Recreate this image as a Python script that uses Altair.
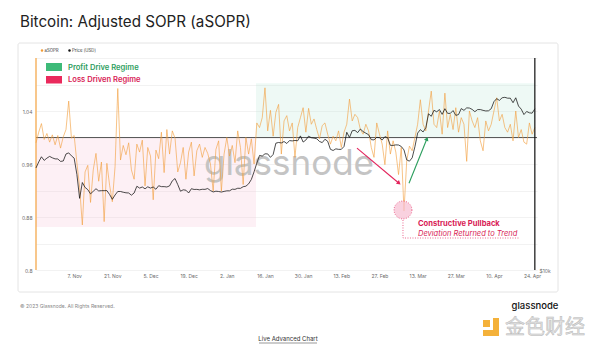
import altair as alt
import pandas as pd

FONT = "Inter"

# ---------------- data ----------------
dates = [d.strftime("%Y-%m-%d") for d in pd.date_range("2022-10-24", "2023-04-25", freq="D")]

asopr = [
    0.992, 1.008, 1.021, 0.997, 1.006, 0.993, 1.004, 0.989,              # Oct 24-31
    1.003, 0.984, 1.001, 1.012, 1.055, 0.999, 1.003, 0.962, 0.925, 0.868,  # Nov 1-10
    0.948, 0.958, 0.902, 0.951, 0.976, 0.934, 0.963, 0.873, 0.961, 0.928,  # Nov 11-20
    0.903, 0.956, 1.074, 0.966, 0.988, 0.974, 0.992, 0.951, 0.937, 0.990,  # Nov 21-30
    0.978, 0.996, 0.927, 0.985, 0.972, 0.906, 0.981, 0.968, 1.008, 0.947,  # Dec 1-10
    1.012, 0.975, 1.010, 0.999, 0.948, 0.962, 0.985, 0.937, 0.978, 0.993,  # Dec 11-20
    0.942, 0.980, 0.990, 0.970, 0.985, 0.976, 0.960, 0.919, 0.982, 0.995, 0.919,  # Dec 21-31
    0.975, 1.000, 0.972, 0.988, 0.962, 1.010, 0.985, 0.929, 1.000, 0.975,  # Jan 1-10
    0.998, 0.960, 1.022, 1.015, 1.030, 1.075, 1.010, 1.041, 1.002, 1.038,  # Jan 11-20
    1.050, 0.975, 1.025, 1.033, 1.010, 1.022, 0.970, 1.015, 1.030, 1.045, 1.008,  # Jan 21-31
    1.044, 1.020, 1.028, 1.012, 0.998, 1.018, 1.022, 1.005, 0.990, 1.002,  # Feb 1-10
    0.995, 1.010, 0.985, 1.008, 1.020, 1.058, 1.025, 1.035, 1.030, 1.012,  # Feb 11-20
    1.005, 1.020, 1.010, 0.985, 0.970, 1.022, 1.005, 0.990,              # Feb 21-28
    0.959, 1.010, 0.975, 0.995, 0.978, 0.944, 0.985, 0.889, 0.965, 0.987,  # Mar 1-10
    0.980, 1.000, 1.020, 1.057, 1.020, 1.010, 1.040, 1.070, 1.020, 1.015,  # Mar 11-20
    1.040, 1.005, 1.067, 1.015, 1.035, 1.012, 1.045, 1.008, 1.030, 1.020, 0.964,  # Mar 21-31
    1.040, 1.025, 1.015, 1.030, 0.995, 0.980, 1.025, 1.010, 1.020, 1.040,  # Apr 1-10
    1.060, 1.025, 1.035, 1.015, 1.008, 1.020, 0.995, 1.040, 1.000, 1.012,  # Apr 11-20
    0.993, 0.990, 1.022, 1.005, 1.015,                                    # Apr 21-25
]

price = [
    19330, 20090, 20770, 20290, 20590, 20820, 20630, 20490,
    20480, 20160, 20210, 21150, 21300, 20900, 20590, 18540, 15880, 17590,
    17040, 16800, 16350, 16620, 16900, 16660, 16690, 16690, 16700, 16280,
    15780, 16230, 16600, 16600, 16520, 16460, 16440, 16210, 16440, 17170,
    16970, 17090, 16890, 17110, 16970, 17090, 16840, 17230, 17130, 17130,
    17090, 17210, 17780, 18050, 17360, 16630, 16780, 16740, 16440, 16900,
    16820, 16830, 16780, 16840, 16830, 16920, 16700, 16550, 16630, 16600, 16540,
    16610, 16670, 16670, 16850, 16830, 16950, 16940, 17120, 17180, 17440,
    17940, 18850, 19930, 20950, 20870, 21170, 21160, 20690, 21080, 22680,
    22780, 22710, 22920, 22630, 23060, 23010, 23080, 23030, 23770, 22840, 23140,
    23730, 23490, 23430, 23330, 22930, 22760, 23260, 22960, 21800, 21630,
    21860, 21790, 21790, 22200, 24330, 23520, 24570, 24630, 24280, 24840,
    24440, 24190, 23950, 23200, 23160, 23550, 23490, 23150,
    23650, 23480, 22360, 22350, 22430, 22410, 22200, 21710, 20360, 20190,
    20630, 22160, 24200, 24750, 24380, 25050, 27420, 26970, 28040, 27770,
    28170, 27310, 28330, 27490, 27490, 27990, 27140, 27270, 28350, 28030, 28480,
    28450, 28200, 27790, 28170, 28170, 28030, 27920, 27950, 28330, 29650,
    30230, 29890, 30400, 30490, 30320, 30320, 29450, 30400, 28820, 28250,
    27280, 27820, 27590, 27520, 28310,
]

tick_dates = ["2022-11-07", "2022-11-21", "2022-12-05", "2022-12-19", "2023-01-02",
              "2023-01-16", "2023-01-30", "2023-02-13", "2023-02-27", "2023-03-13",
              "2023-03-27", "2023-04-10", "2023-04-24"]

# regime bands
loss_band = {"start": "2022-10-24T00:00:00Z", "end": "2023-01-12T17:00:00Z", "top": 1.0, "bottom": 0.865}
profit_band = {"start": "2023-01-12T17:00:00Z", "end": "2023-04-25T00:00:00Z", "top": 1.082, "bottom": 1.0}

# annotation anchors (date, aSOPR value)
red_arrow = {"t": "2023-02-18T18:00:00Z", "v": 0.984, "t2": "2023-03-06T04:00:00Z", "v2": 0.931}
green_arrow = {"t": "2023-03-09T20:00:00Z", "v": 0.931, "t2": "2023-03-16T10:00:00Z", "v2": 0.998}
pullback = {"t": "2023-03-07T15:00:00Z", "v": 0.8906}
leader_t = ["2023-03-07T15:00:00Z", "2023-03-07T15:00:00Z", "2023-04-19T13:00:00Z"]
leader_v = [0.8755, 0.8483, 0.8483]
label_t = "2023-03-13T03:00:00Z"
label_v = [0.8687, 0.8543]

df = pd.DataFrame({"date": dates, "asopr": asopr, "price": price})


def dt(s):
    ts = pd.Timestamp(s)
    return alt.DateTime(year=ts.year, month=ts.month, date=ts.day, hours=ts.hour,
                        minutes=ts.minute, utc=True)


xscale = alt.Scale(type="utc", domain=[dt("2022-10-24"), dt("2023-04-25T19:00:00")])
xaxis = alt.Axis(values=[dt(t) for t in tick_dates],
                 labelExpr="utcFormat(datum.value, '%-d. %b')",
                 title="", grid=False, ticks=False, domain=False, labelFontSize=5,
                 labelColor="#6b6b6b", labelPadding=3, labelFont=FONT)
yscale = alt.Scale(domain=[0.8, 1.12], nice=False, zero=False)
yaxis = alt.Axis(values=[0.8, 0.84, 0.88, 0.92, 0.96, 1.0, 1.04, 1.08, 1.12],
                 labelExpr="indexof(['0.8','0.88','0.96','1.04'], format(datum.value, '.2~f')) >= 0 ? format(datum.value, '.2~f') : ''",
                 title="", ticks=False, domain=False, grid=True, gridColor="#ececec",
                 gridWidth=0.7, labelFontSize=5, labelColor="#6b6b6b", labelPadding=4,
                 labelFont=FONT)


def X(f):
    return alt.X(f, type="temporal", scale=xscale, axis=xaxis)


def Y(f):
    return alt.Y(f, type="quantitative", scale=yscale, axis=yaxis)


one = alt.Data(values=[{"k": 1}])


def txt(s, x, y, size, color, weight="normal", align="left", style="normal", font=FONT):
    return alt.Chart(one).mark_text(text=s, fontSize=size, color=color, fontWeight=weight,
                                    align=align, baseline="middle", fontStyle=style,
                                    font=font).encode(x=alt.value(x), y=alt.value(y))


def box(x, x2, y, y2, color, **kw):
    return alt.Chart(one).mark_rect(color=color, **kw).encode(
        x=alt.value(x), x2=alt.value(x2), y=alt.value(y), y2=alt.value(y2))


def band(d, color):
    return alt.Chart(pd.DataFrame([d])).mark_rect(color=color, opacity=0.26).encode(
        x=X("start"), x2="end", y=Y("top"), y2="bottom")


# card
card = alt.Chart(one).mark_rect(fill="#ffffff", fillOpacity=0, stroke="#e4e4e4",
                                strokeWidth=1, cornerRadius=2).encode(
    x=alt.value(-18), x2=alt.value(522), y=alt.value(-15), y2=alt.value(234))

watermark = txt("glassnode", 253, 106, 35, "#c4c4c4", align="center")

one_line = alt.Chart(pd.DataFrame({"v": [1.0]})).mark_rule(color="#5a5a5a", strokeWidth=1.1).encode(y=Y("v"))

asopr_line = alt.Chart(df).mark_line(color="#f2a040", strokeWidth=0.7, opacity=0.9).encode(
    x=X("date"), y=Y("asopr"))


def edge_rule(t, color):
    return alt.Chart(pd.DataFrame({"t": [t], "lo": [0.8], "hi": [1.12]})).mark_rule(
        color=color, strokeWidth=1.2).encode(x=X("t"), y=Y("lo"), y2="hi")


def arrow(a, color, angle):
    d = pd.DataFrame([a])
    line = alt.Chart(d).mark_rule(color=color, strokeWidth=1.1).encode(
        x=X("t"), x2="t2", y=Y("v"), y2="v2")
    head = alt.Chart(d).mark_point(shape="triangle-up", filled=True, size=22, opacity=1,
                                   color=color, angle=angle).encode(x=X("t2"), y=Y("v2"))
    return [line, head]


circle = alt.Chart(pd.DataFrame([pullback])).mark_point(
    shape="circle", size=320, filled=False, fill="#f7c2d4", fillOpacity=0.75,
    stroke="#e3245c", strokeWidth=0.7, strokeDash=[1, 1.5], opacity=1).encode(x=X("t"), y=Y("v"))

leader = alt.Chart(pd.DataFrame({"t": leader_t, "v": leader_v, "o": [0, 1, 2]})).mark_line(
    color="#e3245c", strokeWidth=0.7, strokeDash=[1, 1.5]).encode(x=X("t"), y=Y("v"), order="o:Q")

lab1 = alt.Chart(pd.DataFrame({"t": [label_t], "v": [label_v[0]], "s": ["Constructive Pullback"]})).mark_text(
    align="left", baseline="middle", fontSize=7.6, fontWeight="bold", color="#d81b55", font=FONT).encode(
    x=X("t"), y=Y("v"), text="s:N")
lab2 = alt.Chart(pd.DataFrame({"t": [label_t], "v": [label_v[1]], "s": ["Deviation Returned to Trend"]})).mark_text(
    align="left", baseline="middle", fontSize=7.5, fontStyle="italic", color="#d81b55", font=FONT).encode(
    x=X("t"), y=Y("v"), text="s:N")

legend_items = [
    box(10, 26, 5, 13, "#3dba78"),
    box(10, 26, 18, 25.5, "#ea2a5c"),
    txt("Profit Drive Regime", 32, 9.5, 7.6, "#2e9e5e", weight=600),
    txt("Loss Driven Regime", 32, 22, 7.6, "#d81b55", weight=600),
    alt.Chart(one).mark_point(shape="circle", filled=True, size=6, color="#f39c35", opacity=1).encode(
        x=alt.value(6), y=alt.value(-7.5)),
    txt("aSOPR", 8.5, -7.5, 4.3, "#333333"),
    alt.Chart(one).mark_point(shape="circle", filled=True, size=6, color="#111111", opacity=1).encode(
        x=alt.value(33.5), y=alt.value(-7.5)),
    txt("Price [USD]", 36, -7.5, 4.3, "#333333"),
]

header_footer = [
    txt("Bitcoin: Adjusted SOPR (aSOPR)", -16, -36, 15.2, "#222222"),
    txt("\u00a9 2023 Glassnode. All Rights Reserved.", -16, 248, 5, "#888888"),
    txt("glassnode", 499, 248, 9.5, "#111111", weight=500, align="center"),
    txt("Live Advanced Chart", 252, 281, 6, "#333333", align="center"),
    alt.Chart(one).mark_rule(color="#333333", strokeWidth=0.5).encode(
        x=alt.value(223), x2=alt.value(281), y=alt.value(285)),
    box(447, 454, 262, 269, "#f4b13a"),
    box(457, 463, 260, 278, "#f4b13a"),
    box(447, 463, 272, 278, "#f4b13a"),
    alt.Chart(one).mark_text(text="\u91d1\u8272\u8d22\u7ecf", fontSize=20, align="left",
                             baseline="middle", font="Noto Sans CJK SC", fill="#e2e2e2",
                             stroke="#b9b9b9", strokeWidth=0.5).encode(
        x=alt.value(469), y=alt.value(270)),
]

inner = alt.layer(
    card, band(loss_band, "#f7c6d9"), band(profit_band, "#bfe6d8"), watermark, one_line,
    asopr_line, edge_rule(dates[0], "#f3a23f"), edge_rule(dates[-1], "#111111"),
    *arrow(red_arrow, "#e3245c", 130), *arrow(green_arrow, "#2a9d5c", 22),
    circle, leader, lab1, lab2, *legend_items, *header_footer)

price_line = alt.Chart(df).mark_line(color="#111111", strokeWidth=0.75).encode(
    x=X("date"),
    y=alt.Y("price:Q", scale=alt.Scale(type="log", domain=[10000, 39300], nice=False),
            axis=alt.Axis(orient="right", values=[10000], labelExpr="'$10k'", title="",
                          grid=False, ticks=False, domain=False, labelFontSize=5,
                          labelColor="#6b6b6b", labelPadding=2, labelFont=FONT)))

chart = alt.layer(inner, price_line).resolve_scale(y="independent").properties(
    width=501, height=212,
    padding={"left": 36, "top": 58, "right": 63, "bottom": 81},
    autosize=alt.AutoSizeParams(type="none"),
    background="#ffffff",
).configure_view(strokeWidth=0)

chart.save("out.html", embed_options={"renderer": "svg", "actions": False})
